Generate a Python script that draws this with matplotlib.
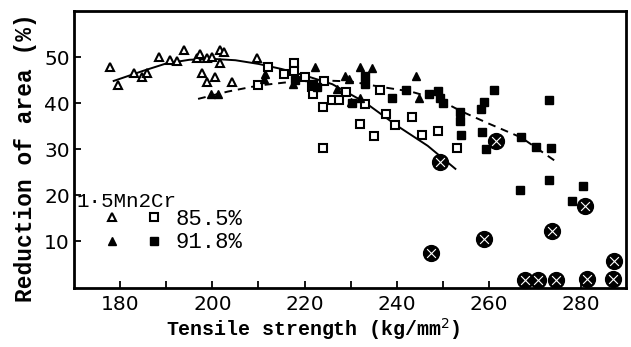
import numpy as np
import matplotlib
matplotlib.use('Agg')
import matplotlib.pyplot as plt
from matplotlib.legend_handler import HandlerTuple

# 1.5Mn2Cr steel, reduction of area vs tensile strength
# 85.5% (open markers)
tri_open_x = [177.8, 179.6, 182.9, 184.7, 185.9, 188.4, 190.8, 192.3, 193.9, 196.6, 197.3,
              198.8, 200.0, 201.6, 202.6, 201.6, 197.7, 198.9, 200.6, 204.3, 209.7]
tri_open_y = [47.8, 44.0, 46.5, 45.7, 46.5, 49.9, 49.3, 49.2, 51.5, 49.8, 50.7,
              49.8, 50.1, 51.5, 51.0, 48.8, 46.5, 44.5, 45.7, 44.5, 49.8]
sq_open_x = [209.9, 212.0, 215.6, 217.7, 217.7, 220.0, 221.5, 221.8, 224.3, 224.0, 225.9, 227.4,
             224.0, 229.0, 233.0, 232.0, 235.0, 236.3, 237.7, 239.6, 243.2, 245.4, 249.0, 253.1]
sq_open_y = [44.0, 47.8, 46.3, 48.7, 46.9, 45.7, 43.4, 42.0, 44.8, 39.1, 40.7, 40.7,
             30.2, 42.5, 39.8, 35.4, 32.9, 42.8, 37.6, 35.3, 37.0, 33.0, 34.0, 30.2]

# 91.8% (filled markers)
tri_fill_x = [199.8, 201.3, 211.4, 211.2, 217.5, 222.3, 227.1, 228.8, 229.6, 230.0,
              232.0, 232.1, 234.6, 244.2, 244.9]
tri_fill_y = [42.0, 42.0, 46.3, 45.2, 44.1, 47.9, 43.0, 45.9, 45.2, 40.3,
              41.2, 47.8, 47.7, 45.8, 41.0]
sq_fill_x = [218.0, 221.8, 222.6, 233.0, 233.0, 230.3, 239.0, 241.9, 246.9, 248.9, 249.3, 250.0,
             253.6, 253.6, 254.0, 258.5, 259.4, 258.3, 259.0, 261.0, 266.9, 270.2, 273.4, 273.0,
             280.3, 277.9, 266.8, 273.0]
sq_fill_y = [45.0, 44.1, 43.4, 45.8, 44.1, 40.0, 41.1, 42.8, 42.0, 42.7, 41.2, 40.0,
             38.0, 36.2, 33.0, 33.6, 30.0, 38.7, 40.2, 42.8, 32.7, 30.4, 30.2, 40.7,
             21.9, 18.8, 21.2, 23.3]

# smudged (hatched) points
blob_x = [249.3, 261.5, 280.9, 273.6, 258.8, 247.5, 287.1, 267.8, 270.6, 274.5, 281.2, 286.9]
blob_y = [27.2, 31.8, 17.7, 12.2, 10.4, 7.5, 5.7, 1.5, 1.5, 1.6, 1.8, 1.7]

# trend lines
fit1_x = [178.6, 185, 190, 195, 200, 205, 210, 215, 220, 226, 233, 240, 246.7, 252.7]
fit1_y = [44.8, 47.0, 48.6, 49.4, 49.6, 49.3, 48.5, 47.4, 46.0, 44.1, 40.2, 35.1, 30.7, 25.7]
fit2_x = [196.9, 203.4, 210, 217, 224, 230, 236, 243, 249, 254, 260, 267, 274.2]
fit2_y = [40.9, 42.5, 43.8, 44.6, 44.9, 44.7, 43.6, 42.5, 40.8, 38.2, 35.5, 32.5, 27.5]

x_ticks = list(range(180, 290, 10))
x_labels = [str(t) if t % 20 == 0 else '' for t in x_ticks]
y_ticks = [10, 20, 30, 40, 50]

mono = 'Liberation Mono'

fig = plt.figure(figsize=(6.31, 3.47), dpi=100)
ax = fig.add_axes([0.1173, 0.170, 0.8748, 0.7983])

ax.plot(fit1_x, fit1_y, '-', color='black', lw=1.4)
ax.plot(fit2_x, fit2_y, '--', color='black', lw=1.4, dashes=(4, 3))

ms = 6
to, = ax.plot(tri_open_x, tri_open_y, '^', ms=ms, mfc='white', mec='black', mew=1.5, ls='none')
so, = ax.plot(sq_open_x, sq_open_y, 's', ms=ms - 0.5, mfc='white', mec='black', mew=1.5, ls='none')
tf, = ax.plot(tri_fill_x, tri_fill_y, '^', ms=ms, color='black', ls='none')
sf, = ax.plot(sq_fill_x, sq_fill_y, 's', ms=ms - 0.5, color='black', ls='none')
# dark fuzzy blobs with a speck of white in the middle
ax.scatter(blob_x, blob_y, s=130, marker='o', color='black', zorder=3, clip_on=False)
ax.scatter(blob_x, blob_y, s=40, marker='x', color='white', linewidth=0.8, zorder=4, clip_on=False)

ax.set_xlim(170, 289.7)
ax.set_ylim(-0.2, 60)
ax.set_xticks(x_ticks)
ax.set_xticklabels(x_labels)
ax.set_yticks(y_ticks)
ax.tick_params(direction='in', length=5, width=1.3, labelsize=14.5, pad=5)
ax.tick_params(axis='y', pad=3)
for s in ax.spines.values():
    s.set_linewidth(2)

ax.set_xlabel('Tensile strength (kg/mm$^2$)', fontfamily=mono, fontweight='bold', fontsize=14.3)
ax.set_ylabel('Reduction of area (%)', fontfamily=mono, fontweight='bold', fontsize=16.5)
ax.xaxis.set_label_coords(0.433, -0.10)
ax.yaxis.set_label_coords(-0.067, 0.47)

ax.text(0.004, 0.312, '1\u00b75Mn2Cr', transform=ax.transAxes, fontfamily=mono,
        fontsize=15, va='center', ha='left')
ax.legend([(to, so), (tf, sf)], ['85.5%', '91.8%'],
          handler_map={tuple: HandlerTuple(ndivide=None, pad=0)},
          loc='upper left', bbox_to_anchor=(0.031, 0.285), frameon=False,
          borderpad=0, borderaxespad=0, handlelength=3.8, handletextpad=0.0,
          labelspacing=0.1, prop={'family': mono, 'size': 16})

plt.savefig('out.png', dpi=100)
